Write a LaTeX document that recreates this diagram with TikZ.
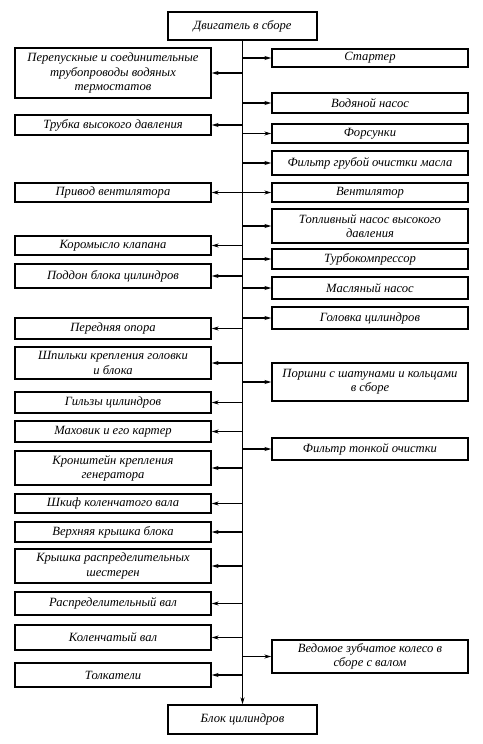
\documentclass[tikz,border=0pt]{standalone}
\usepackage{fontspec}
\setmainfont{Liberation Serif}
\usetikzlibrary{arrows.meta}
\begin{document}
\begin{tikzpicture}[x=1pt,y=-1pt,
  box/.style={draw, line width=1.3pt, minimum width=196pt, align=center, inner sep=0pt,
    font=\itshape\fontsize{12.6}{14.2}\selectfont},
  endbox/.style={box, minimum width=149pt},
  arr/.style={-{Stealth[length=7pt,width=4pt]}, line width=1.1pt}]
\useasboundingbox (0,0) rectangle (482,744);
\node[endbox, minimum height=28pt] (top) at (242.5,26) {Двигатель в сборе};
\node[endbox, minimum height=29pt] (bot) at (242.5,719.5) {Блок цилиндров};
% left
\node[box, minimum height=50pt] (L1) at (113,73) {Перепускные и соединительные\\трубопроводы водяных\\термостатов};
\node[box, minimum height=20pt] (L2) at (113,125) {Трубка высокого давления};
\node[box, minimum height=19pt] (L3) at (113,192.5) {Привод вентилятора};
\node[box, minimum height=19pt] (L4) at (113,245.5) {Коромысло клапана};
\node[box, minimum height=24pt] (L5) at (113,276) {Поддон блока цилиндров};
\node[box, minimum height=21pt] (L6) at (113,328.5) {Передняя опора};
\node[box, minimum height=32pt] (L7) at (113,363) {Шпильки крепления головки\\и блока};
\node[box, minimum height=21pt] (L8) at (113,402.5) {Гильзы цилиндров};
\node[box, minimum height=21pt] (L9) at (113,431.5) {Маховик и его картер};
\node[box, minimum height=34pt] (L10) at (113,468) {Кронштейн крепления\\генератора};
\node[box, minimum height=19pt] (L11) at (113,503.5) {Шкиф коленчатого вала};
\node[box, minimum height=20pt] (L12) at (113,532) {Верхняя крышка блока};
\node[box, minimum height=34pt] (L13) at (113,566) {Крышка распределительных\\шестерен};
\node[box, minimum height=23pt] (L14) at (113,603.5) {Распределительный вал};
\node[box, minimum height=25pt] (L15) at (113,637.5) {Коленчатый вал};
\node[box, minimum height=24pt] (L16) at (113,675) {Толкатели};
% right
\node[box, minimum height=18pt] (R1) at (370,58) {Стартер};
\node[box, minimum height=20pt] (R2) at (370,103) {Водяной насос};
\node[box, minimum height=19pt] (R3) at (370,133.5) {Форсунки};
\node[box, minimum height=24pt] (R4) at (370,163) {Фильтр грубой очистки масла};
\node[box, minimum height=19pt] (R5) at (370,192.5) {Вентилятор};
\node[box, minimum height=34pt] (R6) at (370,226) {Топливный насос высокого\\давления};
\node[box, minimum height=20pt] (R7) at (370,259) {Турбокомпрессор};
\node[box, minimum height=22pt] (R8) at (370,288) {Масляный насос};
\node[box, minimum height=22pt] (R9) at (370,318) {Головка цилиндров};
\node[box, minimum height=38pt] (R10) at (370,382) {Поршни с шатунами и кольцами\\в сборе};
\node[box, minimum height=22pt] (R11) at (370,449) {Фильтр тонкой очистки};
\node[box, minimum height=33pt] (R12) at (370,656.5) {Ведомое зубчатое колесо в\\сборе с валом};
% trunk
\draw[arr] (top.south) -- (bot.north);
\foreach \n in {L1,L2,L3,L4,L5,L6,L7,L8,L9,L10,L11,L12,L13,L14,L15,L16}
  \draw[arr] (top.south |- \n.east) -- (\n.east);
\foreach \n in {R1,R2,R3,R4,R5,R6,R7,R8,R9,R10,R11,R12}
  \draw[arr] (top.south |- \n.west) -- (\n.west);
\end{tikzpicture}
\end{document}
